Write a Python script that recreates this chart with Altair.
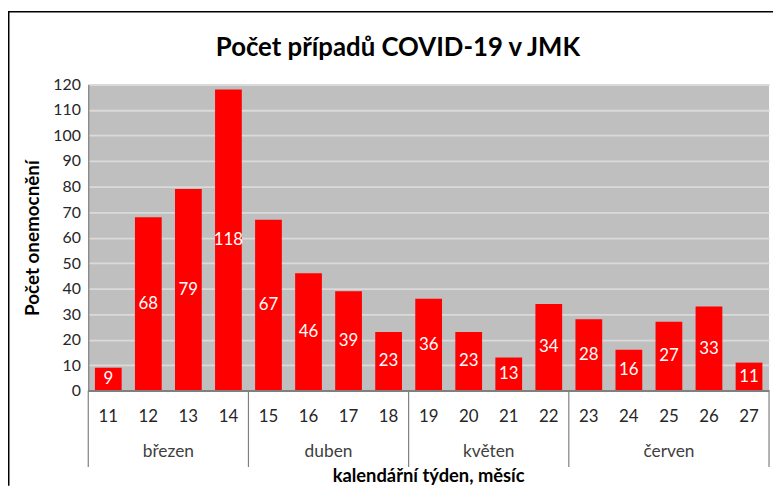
import altair as alt
import pandas as pd

weeks = ["11", "12", "13", "14", "15", "16", "17", "18", "19", "20",
         "21", "22", "23", "24", "25", "26", "27"]
cases = [9, 68, 79, 118, 67, 46, 39, 23, 36, 23, 13, 34, 28, 16, 27, 33, 11]
months = ["březen", "duben", "květen", "červen"]
month_weeks = [4, 4, 4, 5]
y_ticks = list(range(0, 121, 10))

title_text = "Počet případů COVID-19 v JMK"
y_title = "Počet onemocnění"
x_title = "kalendářní týden, měsíc"

FONT = "Lato"
W, H = 687, 309
PAD_L, PAD_T, PAD_R, PAD_B = 81, 75, 4, 96

df = pd.DataFrame({"week": weeks, "cases": cases, "idx": list(range(len(weeks)))})

starts, ends, s = [], [], 0
for n in month_weeks:
    starts.append(s)
    s += n
    ends.append(s)
mdf = pd.DataFrame({"month": months, "start": starts, "end": ends})
sdf = pd.DataFrame({"pos": [0] + ends})
tdf = pd.DataFrame({"t": [x_title], "c": [len(weeks) / 2]})
ttl = pd.DataFrame({"t": [title_text], "c": [len(weeks) / 2]})

xs = alt.Scale(domain=[0, len(weeks)], nice=False, zero=False)
ys = alt.Scale(domain=[0, 120], nice=False)

yaxis = alt.Axis(
    values=y_ticks, title=y_title, titleFont=FONT, titleFontSize=19,
    titleFontWeight="bold", titleColor="#000000", titleX=-56, titleY=H / 2,
    titleAngle=-90, titleAlign="center", titleBaseline="middle",
    labelFont=FONT, labelFontSize=16, labelColor="#262626", labelPadding=8,
    labelOverlap=False, ticks=False, domainColor="#7f7f7f", domainWidth=1.2,
    gridColor="#dadada", gridWidth=1.8)

base = alt.Chart(df).transform_calculate(
    x0="datum.idx + 0.166", x1="datum.idx + 0.834",
    xc="datum.idx + 0.5", half="datum.cases / 2")

bars = base.mark_bar(color="#ff0000").encode(
    x=alt.X("x0:Q", scale=xs, axis=None),
    x2="x1:Q",
    y=alt.Y("cases:Q", scale=ys, axis=yaxis),
    y2=alt.datum(0),
)

bar_labels = base.mark_text(color="#ffffff", font=FONT, fontSize=17,
                            baseline="middle").encode(
    x=alt.X("xc:Q", scale=xs, axis=None),
    y=alt.Y("half:Q", scale=ys, axis=yaxis), text="cases:Q")

week_labels = base.mark_text(color="#262626", font=FONT, fontSize=17,
                             baseline="middle").encode(
    x=alt.X("xc:Q", scale=xs, axis=None), y=alt.value(H + 27), text="week:N")

baseline = base.mark_rule(color="#7f7f7f", strokeWidth=1.2).encode(
    x=alt.value(0), x2=alt.value(W), y=alt.value(H))

month_labels = alt.Chart(mdf).transform_calculate(
    c="(datum.start + datum.end) / 2").mark_text(
    color="#404040", font=FONT, fontSize=17.5, baseline="middle").encode(
    x=alt.X("c:Q", scale=xs, axis=None), y=alt.value(H + 62), text="month:N")

seps = alt.Chart(sdf).mark_rule(color="#7f7f7f", strokeWidth=1.2).encode(
    x=alt.X("pos:Q", scale=xs, axis=None), y=alt.value(H), y2=alt.value(H + 77))

xtitle = alt.Chart(tdf).mark_text(color="#000000", font=FONT, fontSize=18.5,
                                  fontWeight="bold", baseline="middle").encode(
    x=alt.X("c:Q", scale=xs, axis=None), y=alt.value(H + 86), text="t:N")

title = alt.Chart(ttl).mark_text(color="#000000", font=FONT, fontSize=26,
                                 fontWeight="bold", baseline="middle",
                                 dx=-31).encode(
    x=alt.X("c:Q", scale=xs, axis=None), y=alt.value(-37), text="t:N")

frame_top = alt.Chart(tdf).mark_rule(color="#000000", strokeWidth=1.5).encode(
    x=alt.value(-PAD_L), x2=alt.value(W + PAD_R), y=alt.value(-PAD_T + 1.5))
frame_left = alt.Chart(tdf).mark_rule(color="#000000", strokeWidth=1.5).encode(
    x=alt.value(-PAD_L + 0.75), y=alt.value(-PAD_T + 1.5), y2=alt.value(H + PAD_B))

chart = alt.layer(
    bars, bar_labels, baseline, week_labels, month_labels, seps, xtitle,
    title, frame_top, frame_left
).properties(
    width=W, height=H,
    autosize=alt.AutoSizeParams(type="none"),
    padding={"left": PAD_L, "top": PAD_T, "right": PAD_R, "bottom": PAD_B},
).configure_view(fill="#bfbfbf", stroke=None)

chart.save("out.html", embed_options={"renderer": "svg", "actions": False})
